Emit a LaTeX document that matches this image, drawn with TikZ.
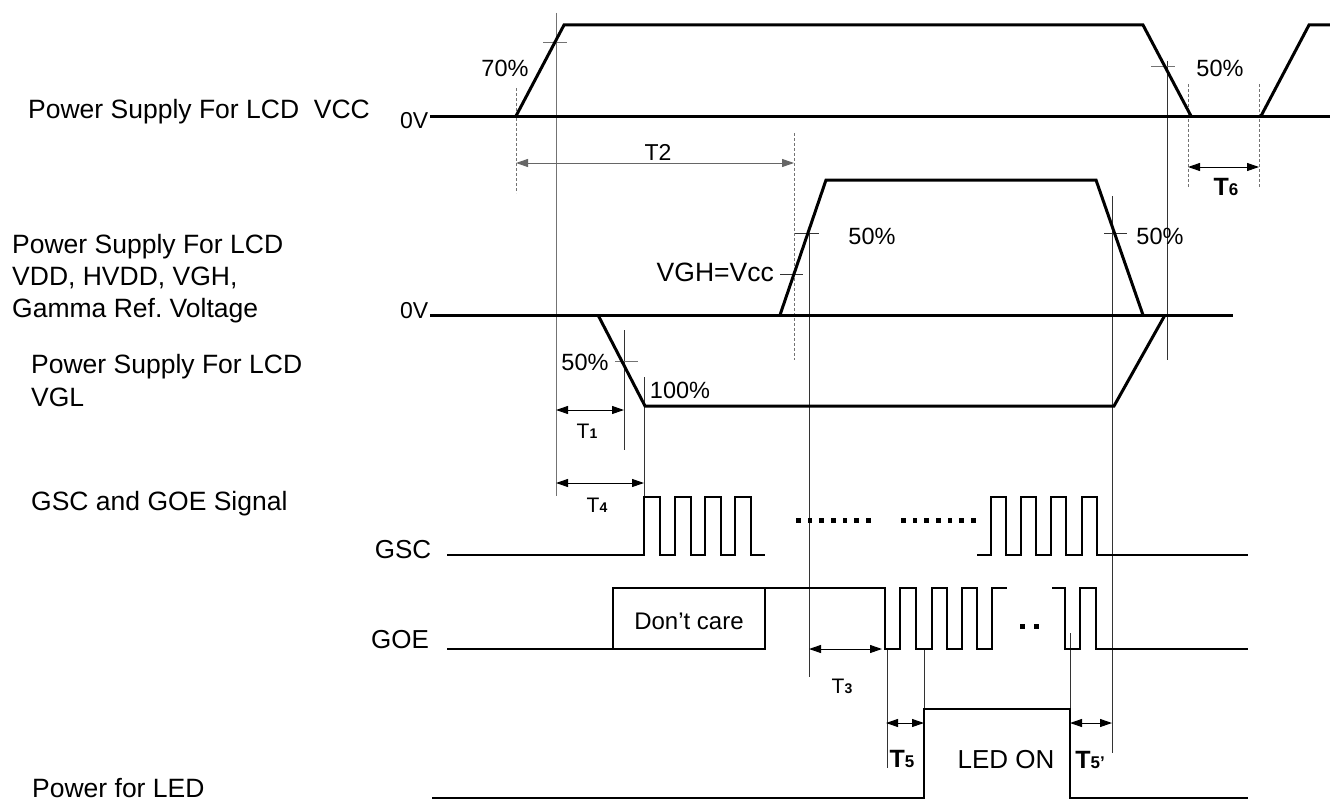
\documentclass[tikz,border=0pt]{standalone}
\usepackage{fontspec}
\setmainfont{Liberation Sans}
\usetikzlibrary{arrows.meta}
\frenchspacing
\newcommand\TsubReg[1]{{\fontsize{21}{21}\selectfont T}{\fontsize{14}{14}\selectfont\bfseries #1}}
\newcommand\TsubBold[1]{{\fontsize{25}{25}\selectfont\bfseries T}{\fontsize{17}{17}\selectfont\bfseries #1}}
\begin{document}
\begin{tikzpicture}[x=1pt,y=-1pt,
  sig/.style={line width=3pt, line join=miter, line cap=butt},
  sigb/.style={line width=2.6pt, line join=miter},
  thinln/.style={line width=1pt, black!80},
  grayln/.style={line width=1pt, black!55},
  dline/.style={line width=0.9pt, black!55, dash pattern=on 3pt off 2pt},
  dimarrow/.style={line width=1pt, {Triangle[length=12pt,width=8pt]}-{Triangle[length=12pt,width=8pt]}},
  lbl/.style={font=\fontsize{26.5}{32}\selectfont, inner sep=0, anchor=base west},
  pct/.style={font=\fontsize{23.5}{28}\selectfont, inner sep=0, anchor=base},
  mid/.style={font=\fontsize{26}{30}\selectfont, inner sep=0, anchor=base},
  tl/.style={inner sep=0, anchor=base},
  dotsq/.style={fill=black}
]
\useasboundingbox (0,0) rectangle (1330,800);
\fill[white] (0,0) rectangle (1330,800);

% ---------- left labels ----------
\node[lbl] (lvcc) at (28,118) {Power Supply For LCD\ \ VCC};
\node[lbl] (lvdd1) at (12,253) {Power Supply For LCD};
\node[lbl] (lvdd2) at (12,285) {VDD, HVDD, VGH,};
\node[lbl] (lvdd3) at (12,317) {Gamma Ref. Voltage};
\node[lbl] (lvgl1) at (31,373) {Power Supply For LCD};
\node[lbl] (lvgl2) at (31,406) {VGL};
\node[lbl] (lgsc) at (31,510) {GSC and GOE Signal};
\node[lbl] (lled) at (32,797) {Power for LED};

\node[font=\fontsize{23}{26}\selectfont, inner sep=0, anchor=base west] (zv1) at (400,128) {0V};
\node[font=\fontsize{23}{26}\selectfont, inner sep=0, anchor=base west] (zv2) at (400,318) {0V};
\node[mid] (gscl) at (403,558) {GSC};
\node[mid] (goel) at (400,648) {GOE};

% ---------- guide lines ----------
\draw[grayln] (556,13) -- (556,496);
\draw[dline] (516,88) -- (516,193);
\draw[dline] (794,133) -- (794,360);
\draw[thinln] (1167,61) -- (1167,360);
\draw[dline] (1188,84) -- (1188,188);
\draw[dline] (1259,84) -- (1259,188);
\draw[thinln] (809,233) -- (809,677);
\draw[thinln] (1112,196) -- (1112,753);
\draw[thinln] (624,330) -- (624,450);
\draw[thinln] (644,377) -- (644,497);
\draw[thinln] (887,650) -- (887,768);
\draw[thinln] (924,650) -- (924,709);
\draw[thinln] (1070,633) -- (1070,709);

% ticks
\draw[grayln] (543,43) -- (567,43);
\draw[grayln] (1151,67) -- (1175,67);
\draw[thinln] (795,233) -- (819,233);
\draw[thinln] (780,274) -- (803,274);
\draw[thinln] (1104,233) -- (1127,233);
\draw[grayln] (615,361) -- (638,361);

% ---------- VCC ----------
\draw[sig] (430,116) -- (1330,116);
\draw[sig] (516,116) -- (564,25) -- (1143,25) -- (1191,116);
\draw[sig] (1261,116) -- (1309,25) -- (1330,25);

% ---------- VDD / VGL ----------
\draw[sig] (430,315) -- (1233,315);
\draw[sig] (780,315) -- (826,180) -- (1096,180) -- (1143,315);
\draw[sig] (598,315) -- (645,406) -- (1114,406) -- (1165,315);

% ---------- GSC ----------
\draw[sigb] (447,555) -- (644,555) -- (644,497) -- (660,497) -- (660,555) -- (675,555) -- (675,497) -- (691,497) -- (691,555) -- (705,555) -- (705,497) -- (721,497) -- (721,555) -- (735,555) -- (735,497) -- (751,497) -- (751,555) -- (765,555);
\draw[sigb] (977,555) -- (991,555) -- (991,497) -- (1006,497) -- (1006,555) -- (1021,555) -- (1021,497) -- (1036,497) -- (1036,555) -- (1051,555) -- (1051,497) -- (1066,497) -- (1066,555) -- (1082,555) -- (1082,497) -- (1097,497) -- (1097,555) -- (1248,555);
\foreach \k in {0,...,6} {
  \fill[dotsq] ({798+\k*11.67-2},518) rectangle ++(4.5,4.5);
  \fill[dotsq] ({903+\k*11.67-2},518) rectangle ++(4.5,4.5);
}

% ---------- GOE ----------
\draw[sigb] (447,649) -- (765,649) -- (765,588);
\draw[sigb] (613,649) -- (613,588) -- (885,588) -- (885,649) -- (900,649) -- (900,588) -- (916,588) -- (916,649) -- (932,649) -- (932,588) -- (947,588) -- (947,649) -- (962,649) -- (962,588) -- (977,588) -- (977,649) -- (992,649) -- (992,588) -- (1007,588);
\draw[sigb] (1052,588) -- (1065,588) -- (1065,649) -- (1080,649) -- (1080,588) -- (1096,588) -- (1096,649) -- (1248,649);
\fill[dotsq] (1020,624) rectangle ++(4.5,4.5);
\fill[dotsq] (1034,624) rectangle ++(4.5,4.5);
\node[font=\fontsize{24}{28}\selectfont, inner sep=0, anchor=base] (dc) at (689,629) {Don’t care};

% ---------- LED ----------
\draw[sigb] (432,798) -- (924,798) -- (924,709) -- (1070,709) -- (1070,798) -- (1248,798);
\node[mid] (ledon) at (1006,768) {LED ON};

% ---------- dimension arrows ----------
\coordinate (t2a) at (516,163); \coordinate (t2b) at (794,163);
\draw[dimarrow, black!60] (t2a) -- (t2b);
\coordinate (t6a) at (1188,167); \coordinate (t6b) at (1259,167);
\draw[dimarrow] (t6a) -- (t6b);
\coordinate (t1a) at (556,410); \coordinate (t1b) at (624,410);
\draw[dimarrow] (t1a) -- (t1b);
\coordinate (t4a) at (556,483); \coordinate (t4b) at (644,483);
\draw[dimarrow] (t4a) -- (t4b);
\coordinate (t3a) at (809,649); \coordinate (t3b) at (882,649);
\draw[dimarrow] (t3a) -- (t3b);
\coordinate (t5a) at (886,723); \coordinate (t5b) at (924,723);
\draw[dimarrow] (t5a) -- (t5b);
\coordinate (t5pa) at (1070,723); \coordinate (t5pb) at (1112,723);
\draw[dimarrow] (t5pa) -- (t5pb);

% ---------- percent / value labels ----------
\node[pct] (p70) at (505,77) {70\%};
\node[pct] (p50a) at (1220,77) {50\%};
\node[pct] (p50b) at (872,244) {50\%};
\node[pct] (p50c) at (1160,244) {50\%};
\node[pct] (p50d) at (585,370) {50\%};
\node[pct] (p100) at (680,398) {100\%};
\node[font=\fontsize{26.5}{30}\selectfont, inner sep=0, anchor=base east] (vgh) at (774,281) {VGH=Vcc};

% ---------- timing labels ----------
\node[font=\fontsize{23}{26}\selectfont, tl] (lt2) at (658,160) {T2};
\node[tl] (lt6) at (1226,195) {\TsubBold{6}};
\node[tl] (lt1) at (587,438) {\TsubReg{1}};
\node[tl] (lt4) at (597,512) {\TsubReg{4}};
\node[tl] (lt3) at (842,693) {\TsubReg{3}};
\node[tl] (lt5) at (902,767) {\TsubBold{5}};
\node[tl] (lt5p) at (1090,768) {\TsubBold{5’}};
\end{tikzpicture}
\end{document}
